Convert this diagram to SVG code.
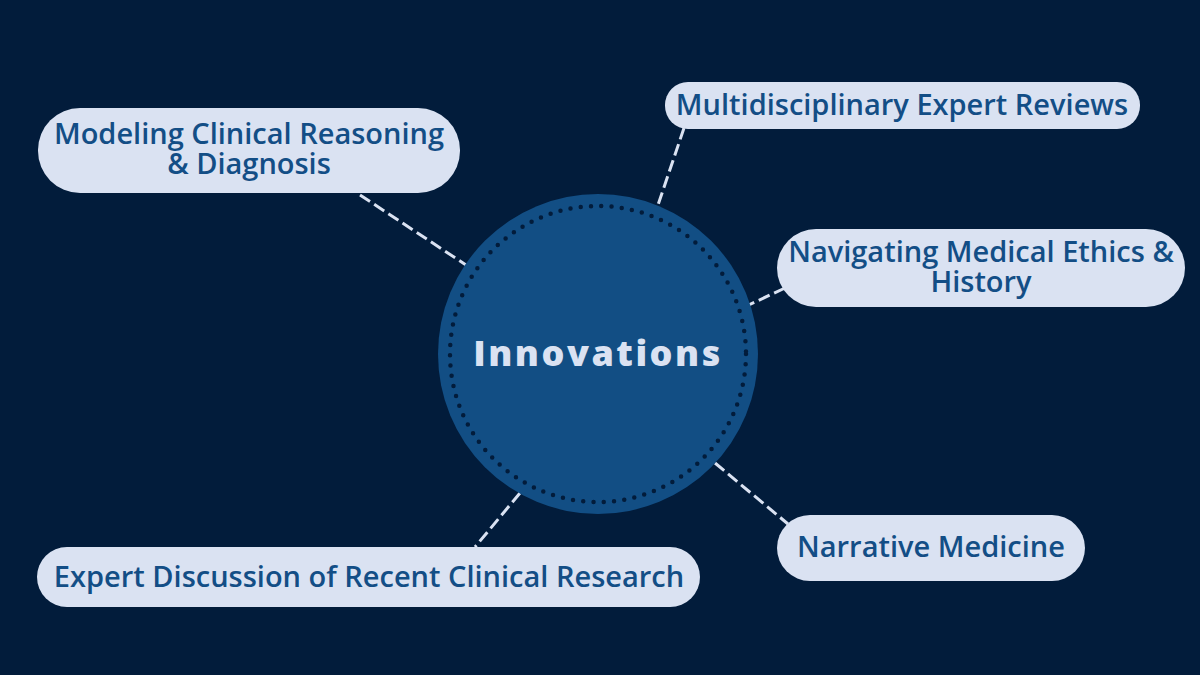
<svg xmlns="http://www.w3.org/2000/svg" width="1200" height="675" viewBox="0 0 1200 675">
<style>
.box{fill:#DAE2F2;}
.lbl{font-family:"Open Sans","Noto Sans",sans-serif;font-weight:600;font-size:29px;fill:#134E86;text-anchor:middle;}
.conn{stroke:#DAE2F2;stroke-width:3;stroke-dasharray:12 5;fill:none;}
</style>
<rect width="1200" height="675" fill="#021C3B"/>
<g id="connectors">
<line class="conn" x1="360" y1="195" x2="466" y2="265"/>
<line class="conn" x1="684" y1="128" x2="658" y2="205"/>
<line class="conn" x1="785" y1="288" x2="738" y2="310"/>
<line class="conn" x1="715" y1="463" x2="788" y2="524"/>
<line class="conn" x1="520" y1="493" x2="475" y2="547"/>
</g>
<g id="center">
<circle cx="598" cy="354" r="160" fill="#124E84"/>
<circle cx="598" cy="354" r="148" fill="none" stroke="#021C3B" stroke-width="4.5" stroke-linecap="round" stroke-dasharray="0 10.3"/>
<text x="598" y="366" font-family="Open Sans, Noto Sans, sans-serif" font-weight="800" font-size="36" letter-spacing="2.5" fill="#DAE2F2" text-anchor="middle">Innovations</text>
</g>
<g id="node-modeling">
<rect class="box" x="38" y="108" width="422" height="85" rx="42"/>
<text class="lbl"><tspan x="249" y="144">Modeling Clinical Reasoning</tspan><tspan x="249" y="174">&amp; Diagnosis</tspan></text>
</g>
<g id="node-multi">
<rect class="box" x="665" y="82" width="475" height="47" rx="23"/>
<text class="lbl" x="902" y="115">Multidisciplinary Expert Reviews</text>
</g>
<g id="node-ethics">
<rect class="box" x="777" y="229" width="408" height="78" rx="39"/>
<text class="lbl"><tspan x="981" y="262">Navigating Medical Ethics &amp;</tspan><tspan x="981" y="292">History</tspan></text>
</g>
<g id="node-narrative">
<rect class="box" x="777" y="515" width="308" height="66" rx="33"/>
<text class="lbl" x="931" y="557">Narrative Medicine</text>
</g>
<g id="node-expert">
<rect class="box" x="37" y="547" width="663" height="60" rx="30"/>
<text class="lbl" x="369" y="587">Expert Discussion of Recent Clinical Research</text>
</g>
</svg>
